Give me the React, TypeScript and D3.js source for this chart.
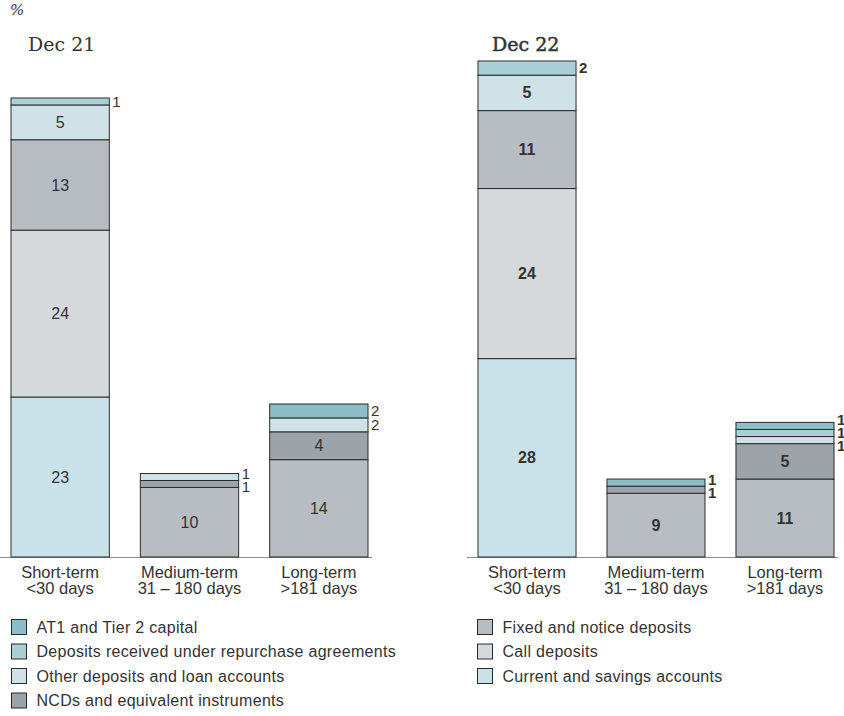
import React from "react";
import * as d3 from "d3";

// ---------- data ----------
const categories = ["Short-term", "Medium-term", "Long-term"];
const subLabels = ["<30 days", "31 – 180 days", ">181 days"];

// stacking order: bottom -> top
const seriesKeys = ["current", "call", "fixed", "ncd", "other", "repo", "at1"];
const seriesNames: Record<string, string> = {
  at1: "AT1 and Tier 2 capital",
  repo: "Deposits received under repurchase agreements",
  other: "Other deposits and loan accounts",
  ncd: "NCDs and equivalent instruments",
  fixed: "Fixed and notice deposits",
  call: "Call deposits",
  current: "Current and savings accounts",
};
const seriesColors: Record<string, string> = {
  at1: "#8dbdc6",
  repo: "#abcfd6",
  other: "#cfe2e7",
  ncd: "#9ca3a9",
  fixed: "#b7bdc3",
  call: "#d5d9dc",
  current: "#c9e2ea",
};

// Dec 21
const current21 = [23, 0, 0];
const call21 = [24, 0, 0];
const fixed21 = [13, 10, 14];
const ncd21 = [0, 1, 4];
const other21 = [5, 1, 2];
const repo21 = [1, 0, 0];
const at1_21 = [0, 0, 2];

// Dec 22
const current22 = [28, 0, 0];
const call22 = [24, 0, 0];
const fixed22 = [11, 9, 11];
const ncd22 = [0, 1, 5];
const other22 = [5, 0, 1];
const repo22 = [2, 0, 1];
const at1_22 = [0, 1, 1];

const legendLeft = ["at1", "repo", "other", "ncd"];
const legendRight = ["fixed", "call", "current"];

// ---------- layout ----------
const W = 844;
const H = 716;
const BASE_Y = 557;
const SANS = "'Liberation Sans', Arial, Helvetica, sans-serif";
const SERIF = "'DejaVu Serif', serif";
const TEXT = "#333";

type Row = Record<string, number | string>;

function buildRows(vals: Record<string, number[]>): Row[] {
  return categories.map((c, i) => {
    const r: Row = { cat: c };
    seriesKeys.forEach((k) => (r[k] = vals[k][i]));
    return r;
  });
}

const panels = [
  {
    title: "Dec 21",
    bold: false,
    titleX: 28,
    x0: 11,
    x1: 368,
    topY: 98,
    rows: buildRows({
      current: current21,
      call: call21,
      fixed: fixed21,
      ncd: ncd21,
      other: other21,
      repo: repo21,
      at1: at1_21,
    }),
  },
  {
    title: "Dec 22",
    bold: true,
    titleX: 492,
    x0: 478,
    x1: 834,
    topY: 61,
    rows: buildRows({
      current: current22,
      call: call22,
      fixed: fixed22,
      ncd: ncd22,
      other: other22,
      repo: repo22,
      at1: at1_22,
    }),
  },
];

function Panel({ p }: { p: (typeof panels)[number] }) {
  const stack = d3.stack<Row>().keys(seriesKeys).value((d, k) => d[k] as number);
  const layers = stack(p.rows);
  const totals = p.rows.map((r) => d3.sum(seriesKeys, (k) => r[k] as number));
  const y = d3
    .scaleLinear()
    .domain([0, d3.max(totals) as number])
    .range([BASE_Y, p.topY]);
  const x = d3.scaleBand<string>().domain(categories).range([p.x0, p.x1]).paddingInner(0.24);
  const weight = p.bold ? 700 : 400;

  const segs: React.ReactNode[] = [];
  const inLabels: React.ReactNode[] = [];
  const outLabels: React.ReactNode[] = [];

  categories.forEach((cat, ci) => {
    const bx = x(cat) as number;
    const bw = x.bandwidth();
    const outs: { v: number; c: number }[] = [];
    layers.forEach((layer) => {
      const d = layer[ci];
      const v = d[1] - d[0];
      if (v <= 0) return;
      const yTop = y(d[1]);
      const yBot = y(d[0]);
      segs.push(
        <rect
          key={`${layer.key}-${ci}`}
          x={bx}
          y={yTop}
          width={bw}
          height={yBot - yTop}
          fill={seriesColors[layer.key]}
          stroke="#2b2b2b"
          strokeWidth={1}
        />
      );
      if (v >= 4) {
        inLabels.push(
          <text
            key={`l-${layer.key}-${ci}`}
            x={bx + bw / 2}
            y={(yTop + yBot) / 2}
            dy="0.35em"
            textAnchor="middle"
            fontFamily={SANS}
            fontSize={16}
            fontWeight={weight}
            fill={TEXT}
          >
            {v}
          </text>
        );
      } else {
        outs.push({ v, c: (yTop + yBot) / 2 });
      }
    });
    // outside labels: top first, spread if overlapping
    outs.sort((a, b) => a.c - b.c);
    const gap = 13;
    let pos = outs.map((o) => o.c);
    let overlap = false;
    for (let i = 1; i < pos.length; i++) if (pos[i] - pos[i - 1] < gap) overlap = true;
    if (overlap) {
      const mean = d3.mean(pos) as number;
      pos = pos.map((_, i) => mean + (i - (pos.length - 1) / 2) * gap);
    }
    outs.forEach((o, i) => {
      outLabels.push(
        <text
          key={`o-${ci}-${i}`}
          x={bx + bw + 3}
          y={pos[i]}
          dy="0.35em"
          fontFamily={SANS}
          fontSize={15}
          fontWeight={weight}
          fill={TEXT}
        >
          {o.v}
        </text>
      );
    });
  });

  return (
    <g>
      <text
        x={p.titleX}
        y={51}
        fontFamily={SERIF}
        fontSize={19}
        fill={TEXT}
        stroke={p.bold ? TEXT : "none"}
        strokeWidth={p.bold ? 0.5 : 0}
      >
        {p.title}
      </text>
      <line
        x1={p.x0 - 11}
        x2={p.x1 + 4}
        y1={BASE_Y + 0.5}
        y2={BASE_Y + 0.5}
        stroke="#8a8a8a"
        strokeWidth={1.2}
      />
      {segs}
      {inLabels}
      {outLabels}
      {categories.map((c, i) => (
        <text
          key={`c-${c}`}
          x={(x(c) as number) + x.bandwidth() / 2}
          y={578}
          textAnchor="middle"
          fontFamily={SANS}
          fontSize={16.5}
          fill={TEXT}
        >
          <tspan x={(x(c) as number) + x.bandwidth() / 2}>{c}</tspan>
          <tspan x={(x(c) as number) + x.bandwidth() / 2} dy={15.5}>
            {subLabels[i]}
          </tspan>
        </text>
      ))}
    </g>
  );
}

function Legend({ keys, x0 }: { keys: string[]; x0: number }) {
  return (
    <g>
      {keys.map((k, i) => {
        const cy = 627 + i * 24.5;
        return (
          <g key={k}>
            <rect
              x={x0}
              y={cy - 7.5}
              width={15}
              height={15}
              fill={seriesColors[k]}
              stroke="#2b2b2b"
              strokeWidth={1}
            />
            <text
              x={x0 + 25}
              y={cy}
              dy="0.35em"
              fontFamily={SANS}
              fontSize={16}
              letterSpacing={0.3}
              fill={TEXT}
            >
              {seriesNames[k]}
            </text>
          </g>
        );
      })}
    </g>
  );
}

export default function App() {
  return (
    <svg
      width={W}
      height={H}
      viewBox={`0 0 ${W} ${H}`}
      style={{ position: "absolute", left: 0, top: 0, background: "#fff" }}
    >
      <text x={10} y={15} fontFamily={SERIF} fontSize={15} fontStyle="italic" fill={TEXT}>
        %
      </text>
      {panels.map((p) => (
        <Panel key={p.title} p={p} />
      ))}
      <Legend keys={legendLeft} x0={11.5} />
      <Legend keys={legendRight} x0={477.5} />
    </svg>
  );
}
